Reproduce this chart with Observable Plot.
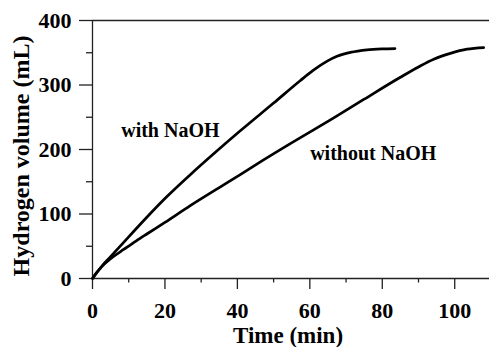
<!DOCTYPE html>
<html>
<head>
<meta charset="utf-8">
<script src="https://cdn.jsdelivr.net/npm/d3@7"></script>
<script src="https://cdn.jsdelivr.net/npm/@observablehq/plot@0.6"></script>
<style>
  html, body { margin: 0; padding: 0; background: #fff; }
  #chart svg { display: block; }
</style>
</head>
<body>
<div id="chart"></div>
<script>
// Data
const withTime = [0, 1, 2, 3, 4, 6, 8.6, 15, 20, 27, 34.4, 40.8, 50, 57.4, 61, 64.8, 67.5, 71.2, 75.8, 80, 83.5];
const withVol  = [0, 8, 15, 22, 28, 40, 56, 95, 124, 161, 198, 229, 272, 307, 323, 337, 344.5, 350.5, 354.5, 356, 356.5];
const withoutTime = [0, 1, 2, 3, 4, 6, 8.6, 12, 15, 20, 27, 35, 40.8, 47, 54.6, 66.6, 75, 85, 90, 94.2, 98.8, 103.4, 108];
const withoutVol  = [0, 8, 15, 21, 26, 35, 45, 58, 69, 87, 113, 141, 161, 183, 209, 249, 278, 312, 328, 340, 349, 355.5, 358];
const xMajorTicks = [0, 20, 40, 60, 80, 100];
const xMinorTicks = [10, 30, 50, 70, 90];
const yMajorTicks = [0, 100, 200, 300, 400];
const yMinorTicks = [50, 150, 250, 350];
const labels = [
  {t: 21.5, v: 229, text: "with NaOH"},
  {t: 77.5, v: 193, text: "without NaOH"}
];
const xTitle = "Time (min)";
const yTitle = "Hydrogen volume (mL)";

const withData = withTime.map((t, i) => ({t, v: withVol[i]}));
const withoutData = withoutTime.map((t, i) => ({t, v: withoutVol[i]}));

const font = "Liberation Serif";
const axisColor = "#222";

const chart = Plot.plot({
  width: 489,
  height: 347,
  marginLeft: 92,
  marginRight: 0,
  marginTop: 20,
  marginBottom: 69,
  style: {fontFamily: font, fontWeight: "bold", background: "#fff", color: "#000"},
  x: {domain: [0, 109.6]},
  y: {domain: [0, 400]},
  marks: [
    Plot.axisX(xMinorTicks, {tickSize: 4.5, text: null, stroke: axisColor, strokeWidth: 1.3, label: null}),
    Plot.axisX(xMajorTicks, {tickSize: 11, tickPadding: 13, fontSize: 22, fontWeight: "bold", stroke: axisColor, strokeWidth: 1.3, label: null, fill: "#000"}),
    Plot.axisY(yMinorTicks, {tickSize: 6, text: null, stroke: axisColor, strokeWidth: 1.3, label: null}),
    Plot.axisY(yMajorTicks, {tickSize: 13, tickPadding: 8, fontSize: 22, fontWeight: "bold", stroke: axisColor, strokeWidth: 1.3, label: null, fill: "#000"}),
    Plot.ruleY([0], {stroke: axisColor, strokeWidth: 1.3}),
    Plot.ruleY([400], {stroke: axisColor, strokeWidth: 1.3}),
    Plot.ruleX([0], {stroke: axisColor, strokeWidth: 1.3}),
    Plot.line(withData, {x: "t", y: "v", stroke: "#000", strokeWidth: 2.7, curve: "monotone-x"}),
    Plot.line(withoutData, {x: "t", y: "v", stroke: "#000", strokeWidth: 2.7, curve: "monotone-x"}),
    Plot.text(labels, {x: "t", y: "v", text: "text", fontSize: 20, fontWeight: "bold", fill: "#000"}),
    Plot.text([xTitle], {frameAnchor: "bottom", text: d => d, dy: 57, lineAnchor: "middle", fontSize: 23, fontWeight: "bold", fill: "#000", dx: -3}),
    Plot.text([yTitle], {x: () => 0, y: () => 190, text: d => d, rotate: -90, dx: -71, fontSize: 24, fontWeight: "bold", fill: "#000"})
  ]
});
document.getElementById("chart").appendChild(chart);
</script>
</body>
</html>
